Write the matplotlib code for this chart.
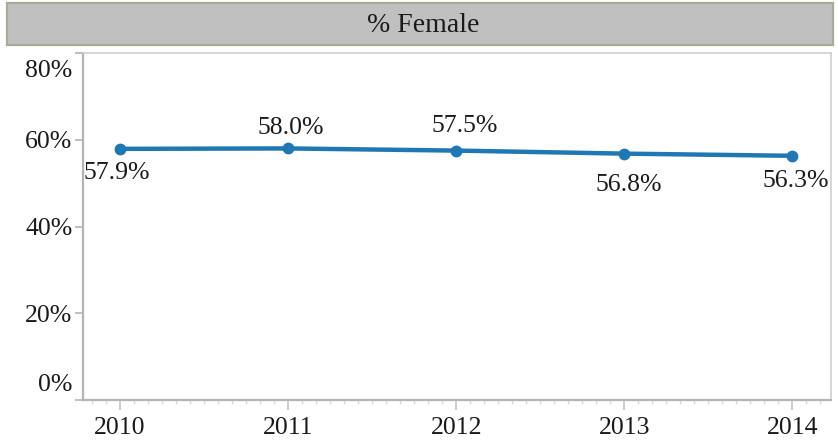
import matplotlib
matplotlib.use("Agg")
import matplotlib.pyplot as plt
from matplotlib.patches import Rectangle
from matplotlib.ticker import MultipleLocator
from matplotlib.transforms import ScaledTranslation

years = [2010, 2011, 2012, 2013, 2014]
pct_female = [57.9, 58.0, 57.5, 56.8, 56.3]
y_ticks = [0, 20, 40, 60, 80]
title = "% Female"

# label offsets in pixels (dx, dy) relative to the point
label_offsets = [(-3, -24), (3, 20), (9, 25), (5, -31), (3, -25)]

plt.rcParams['font.family'] = ['Liberation Serif', 'DejaVu Serif']
FS = 18.5
DPI = 100
fig = plt.figure(figsize=(8.38, 4.43), dpi=DPI)
W, H = 838, 443

# title bar
fig.patches.append(Rectangle((7 / W, 1 - 45 / H), 826 / W, 42 / H, transform=fig.transFigure,
                             facecolor="#c0c0c0", edgecolor="#aaa99c", linewidth=1.6))
fig.text(423 / W, 1 - 25 / H, title, ha="center", va="center", fontsize=20, color="#1a1a1a")

ax = fig.add_axes([83 / W, 1 - 400 / H, 748 / W, 347 / H])
blue = "#1f77b4"
ax.plot(years, pct_female, color=blue, linewidth=3.2, marker="o", markersize=7.5,
        solid_capstyle="round", zorder=3, clip_on=False)

px = 72 / DPI
for x, v, (dx, dy) in zip(years, pct_female, label_offsets):
    ax.annotate(f"{v:.1f}%", (x, v), xytext=(dx * px, dy * px), textcoords="offset points",
                ha="center", va="center", fontsize=FS, color="#1a1a1a")

ax.set_xlim(2009.78, 2014.23)
ax.set_ylim(0, 80)
ax.set_yticks(y_ticks)
ax.set_yticklabels([f"{t}%" for t in y_ticks])
ax.set_xticks(years)
ax.set_xticklabels([str(y) for y in years])
ax.xaxis.set_minor_locator(MultipleLocator(1 / 12))

ax.tick_params(axis="y", which="major", length=5.5, width=1.2, color="#b4b4b4",
               labelsize=FS, labelcolor="#1a1a1a", pad=2)
ax.tick_params(axis="x", which="major", length=7, width=1.2, color="#c4c4c4",
               labelsize=FS, labelcolor="#1a1a1a", pad=5.5)
ax.tick_params(axis="x", which="minor", length=3, width=1, color="#dadada")

for lbl in ax.get_yticklabels():
    if lbl.get_text() == "0%":
        lbl.set_va("center")
        lbl.set_transform(lbl.get_transform() + ScaledTranslation(0, 15 / DPI, fig.dpi_scale_trans))
    elif lbl.get_text() == "80%":
        lbl.set_va("center")
        lbl.set_transform(lbl.get_transform() + ScaledTranslation(0, -18 / DPI, fig.dpi_scale_trans))

for s in ["left", "bottom"]:
    ax.spines[s].set_color("#b4b4b4")
    ax.spines[s].set_linewidth(1.6)
for s in ["top", "right"]:
    ax.spines[s].set_color("#cfcfcf")
    ax.spines[s].set_linewidth(1.2)

fig.savefig("out.png", dpi=DPI)
